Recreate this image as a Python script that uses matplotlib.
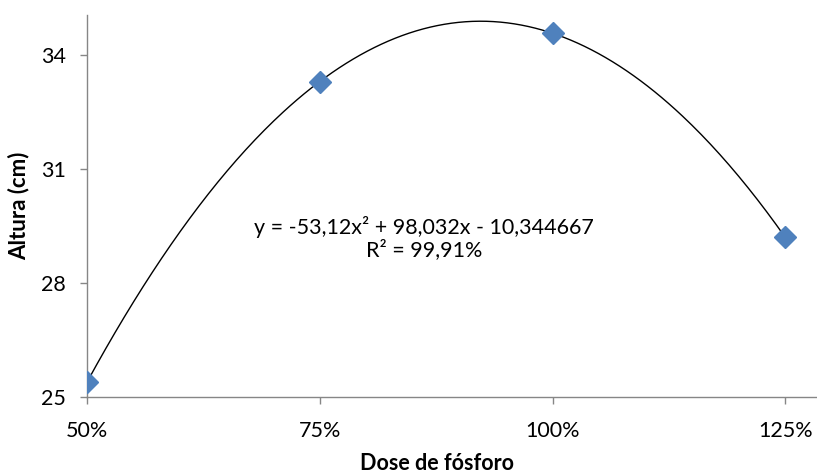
import numpy as np
import matplotlib.pyplot as plt

plt.rcParams['font.family'] = ['Lato', 'DejaVu Sans']

# data
dose = [0.50, 0.75, 1.00, 1.25]
dose_labels = ['50%', '75%', '100%', '125%']
altura = [25.39, 33.30, 34.57, 29.20]
y_ticks = [25, 28, 31, 34]

eq_text = 'y = -53,12x\u00b2 + 98,032x - 10,344667\nR\u00b2 = 99,91%'

fig = plt.figure(figsize=(8.17, 4.74), dpi=100)
ax = fig.add_axes([87/817, 77/474, 729/817, 382/474])

# polynomial trendline (2nd order) fitted on the points, like Excel does
coef = np.polyfit(dose, altura, 2)
xx = np.linspace(dose[0], dose[-1], 300)
ax.plot(xx, np.polyval(coef, xx), color='black', lw=1.0, zorder=2)

ax.plot(dose, altura, linestyle='None', marker='D', ms=11, color='#4F81BD',
        markeredgecolor='#4F81BD', zorder=3)

ax.text(0.862, 29.18, eq_text, ha='center', va='center', fontsize=15.5,
        linespacing=1.1)

ax.set_xlim(0.5, 1.283)
ax.set_ylim(25, 35.05)
ax.set_xticks(dose)
ax.set_xticklabels(dose_labels)
ax.set_yticks(y_ticks)

for s in ['top', 'right']:
    ax.spines[s].set_visible(False)
for s in ['left', 'bottom']:
    ax.spines[s].set_color('#868686')
    ax.spines[s].set_linewidth(1.0)
ax.tick_params(axis='both', colors='#868686', labelcolor='black', labelsize=15.5,
               length=5, width=1.0)
ax.tick_params(axis='x', pad=12)
ax.tick_params(axis='y', pad=10)

ax.set_xlabel('Dose de fósforo', fontsize=15.5, fontweight='bold')
ax.set_ylabel('Altura (cm)', fontsize=16, fontweight='bold')
# label positions measured in pixels on the reference
ax.xaxis.set_label_coords((437 - 87) / 729, (397 - 453) / 382)
ax.yaxis.set_label_coords((29 - 87) / 729, (397 - 206) / 382)

fig.savefig('out.png', dpi=100)
